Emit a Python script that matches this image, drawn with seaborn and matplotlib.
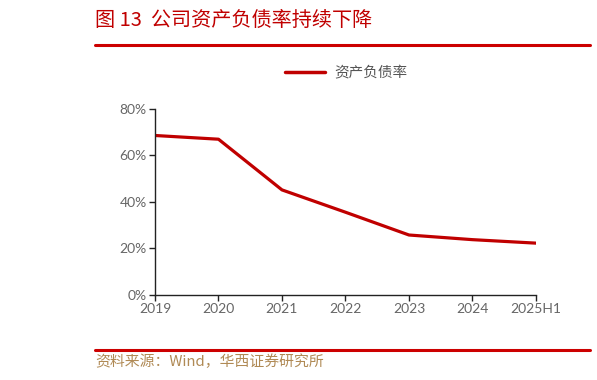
import matplotlib
matplotlib.use("Agg")
import matplotlib.pyplot as plt
import seaborn as sns
import pandas as pd
from matplotlib.lines import Line2D
from matplotlib.ticker import FuncFormatter

categories = ["2019", "2020", "2021", "2022", "2023", "2024", "2025H1"]
debt_ratio = [68.6, 67.0, 45.2, 35.6, 25.8, 23.8, 22.3]
series_name = "资产负债率"
yticks = [0, 20, 40, 60, 80]
title = "图 13  公司资产负债率持续下降"
source = "资料来源：Wind，华西证券研究所"

sns.set_theme(style="white")
plt.rcParams['font.family'] = ['Noto Sans CJK SC', 'DejaVu Sans']

df = pd.DataFrame({"x": range(len(categories)), "y": debt_ratio})

fig = plt.figure(figsize=(5.97, 3.8), dpi=100)
ax = fig.add_axes([0.2596, 0.2237, 0.8978 - 0.2596, 0.7132 - 0.2237])
red = "#c00000"
sns.lineplot(data=df, x="x", y="y", ax=ax, color=red, linewidth=2.3, legend=False)

ax.set_xlim(0, len(categories) - 1)
ax.set_ylim(0, 80)
ax.set_xticks(range(len(categories)))
ax.set_xticklabels(categories)
ax.set_yticks(yticks)
ax.yaxis.set_major_formatter(FuncFormatter(lambda v, p: f"{int(v)}%"))
ax.set_xlabel("")
ax.set_ylabel("")
for s in ["top", "right"]:
    ax.spines[s].set_visible(False)
for s in ["left", "bottom"]:
    ax.spines[s].set_color("#222222")
    ax.spines[s].set_linewidth(1.0)
ax.tick_params(axis="both", which="major", direction="out", length=4, width=1,
               color="#222222", labelsize=10, labelcolor="#666666", bottom=True, left=True, pad=2)
for lab in ax.get_xticklabels() + ax.get_yticklabels():
    lab.set_family(['Lato', 'DejaVu Sans'])

# legend
handle = Line2D([0], [0], color=red, linewidth=2.5)
fig.legend([handle], [series_name], loc="center", bbox_to_anchor=(346 / 597, 1 - 73 / 380),
           frameon=False, fontsize=10.5, handlelength=2.8, handletextpad=0.6, labelcolor="#555555")

# title and rules
fig.text(95 / 597, 1 - 20 / 380, title, color="#c00000", fontsize=14.5, va="center", ha="left")
fig.add_artist(Line2D([95 / 597, 590 / 597], [1 - 45 / 380, 1 - 45 / 380], color="#cc0000", linewidth=2.2))
fig.add_artist(Line2D([95 / 597, 590 / 597], [1 - 350 / 380, 1 - 350 / 380], color="#cc0000", linewidth=2.2))
fig.text(95 / 597, 1 - 362 / 380, source, color="#b08a55", fontsize=10.7, va="center", ha="left")

fig.savefig("out.png", dpi=100)
